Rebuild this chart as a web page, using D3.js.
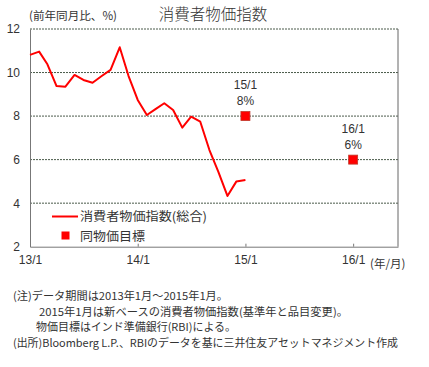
<!DOCTYPE html>
<html>
<head>
<meta charset="utf-8">
<script src="https://cdn.jsdelivr.net/npm/d3@7"></script>
<style>
body { margin: 0; background: #fff; }
text { font-family: "Noto Sans CJK JP", "Noto Sans", sans-serif; fill: #333; }
</style>
</head>
<body>
<div class="chart"></div>
<script>
// monthly CPI yoy (%), 2013/1 - 2015/1
const months = d3.range(25).map(i => new Date(2013, i, 1))
const cpi = [10.81, 10.96, 10.38, 9.38, 9.35, 9.89, 9.66, 9.53, 9.84, 10.12, 11.16, 9.84,
  8.74, 8.05, 8.31, 8.59, 8.28, 7.47, 7.97, 7.74, 6.44, 5.45, 4.33, 4.99, 5.06]
const targetDates = [new Date(2015, 0, 1), new Date(2016, 0, 1)]
const targetValues = [8, 6]
const targetLabels = ['15/1', '16/1']
const yTicks = [2, 4, 6, 8, 10, 12]
const xTicks = [new Date(2013, 0, 1), new Date(2014, 0, 1), new Date(2015, 0, 1), new Date(2016, 0, 1)]
const xTickLabels = ['13/1', '14/1', '15/1', '16/1']
const notes = [
  '(注)データ期間は2013年1月～2015年1月。',
  '2015年1月は新ベースの消費者物価指数(基準年と品目変更)。',
  '物価目標はインド準備銀行(RBI)による。',
  '(出所)Bloomberg L.P.、RBIのデータを基に三井住友アセットマネジメント作成'
]

const W = 429, H = 367
const margin = {top: 29, right: 31, bottom: 120, left: 30}

const svg = d3.select('.chart').append('svg')
  .attr('width', W)
  .attr('height', H)

const x = d3.scaleTime()
  .domain([new Date(2013, 0, 1), new Date(2016, 5, 1)])
  .range([margin.left, W - margin.right])

const y = d3.scaleLinear()
  .domain([2, 12])
  .range([H - margin.bottom - 0.3, margin.top])

// grid lines
svg.selectAll('.grid')
  .data(yTicks.filter(d => d > 2))
  .enter()
  .append('line')
  .attr('x1', margin.left)
  .attr('x2', W - margin.right)
  .attr('y1', d => y(d))
  .attr('y2', d => y(d))
  .attr('stroke', '#4a5a4a')
  .attr('stroke-dasharray', '2,1')
  .attr('stroke-width', 1)

// right border
svg.append('line')
  .attr('x1', W - margin.right).attr('x2', W - margin.right)
  .attr('y1', y(12)).attr('y2', y(2))
  .attr('stroke', '#666')

// left + bottom axes
const yAxis = svg.append('g')
  .attr('transform', `translate(${margin.left},0)`)
  .call(d3.axisLeft(y).tickValues(yTicks).tickSize(0).tickPadding(10))
yAxis.select('.domain').attr('stroke', '#777')
yAxis.selectAll('text').attr('font-size', 12).attr('fill', '#333')
  .style('font-family', '"Liberation Sans", Arial, sans-serif')

const xAxis = svg.append('g')
  .attr('transform', `translate(0,${y(2)})`)
  .call(d3.axisBottom(x).tickValues(xTicks).tickFormat((d, i) => xTickLabels[i]).tickSizeInner(-3).tickSizeOuter(0).tickPadding(9))
xAxis.select('.domain').attr('stroke', '#777')
xAxis.selectAll('line').attr('stroke', '#777')
xAxis.selectAll('text').attr('font-size', 12).attr('fill', '#333')
  .style('font-family', '"Liberation Sans", Arial, sans-serif')

svg.append('text')
  .text('(年/月)')
  .attr('x', 370)
  .attr('y', y(2) + 21)
  .attr('font-size', 11.5)

// cpi line
const line = d3.line()
  .x((d, i) => x(months[i]))
  .y(d => y(d))

svg.append('path')
  .datum(cpi)
  .attr('d', line)
  .attr('fill', 'none')
  .attr('stroke', '#ff0000')
  .attr('stroke-width', 2)
  .attr('stroke-linejoin', 'round')

// targets
svg.selectAll('.target')
  .data(targetValues)
  .enter()
  .append('rect')
  .attr('class', 'target')
  .attr('x', (d, i) => x(targetDates[i]) - 4.5)
  .attr('y', d => y(d) - 4.5)
  .attr('width', 9)
  .attr('height', 9)
  .attr('fill', '#ff0000')
  .attr('stroke', '#c0392b')
  .attr('stroke-width', 0.8)

svg.selectAll('.tlabel')
  .data(targetValues)
  .enter()
  .append('text')
  .attr('text-anchor', 'middle')
  .attr('x', (d, i) => x(targetDates[i]))
  .attr('y', d => y(d) - 27)
  .attr('font-size', 12)
  .style('font-family', '"Liberation Sans", Arial, sans-serif')
  .text((d, i) => targetLabels[i])

svg.selectAll('.tval')
  .data(targetValues)
  .enter()
  .append('text')
  .attr('text-anchor', 'middle')
  .attr('x', (d, i) => x(targetDates[i]))
  .attr('y', d => y(d) - 11)
  .attr('font-size', 12)
  .style('font-family', '"Liberation Sans", Arial, sans-serif')
  .text(d => d + '%')

// title + unit
svg.append('text')
  .text('消費者物価指数')
  .attr('x', 213)
  .attr('y', 20)
  .attr('text-anchor', 'middle')
  .attr('font-size', 15.5)
  .attr('font-weight', 300)

svg.append('text')
  .text('(前年同月比、%)')
  .attr('x', 29)
  .attr('y', 20)
  .attr('font-size', 11.5)
  .attr('textLength', 88)
  .attr('lengthAdjust', 'spacingAndGlyphs')

// legend
svg.append('line')
  .attr('x1', 52).attr('x2', 78)
  .attr('y1', 216.5).attr('y2', 216.5)
  .attr('stroke', '#ff0000')
  .attr('stroke-width', 2)
svg.append('text')
  .text('消費者物価指数(総合)')
  .attr('x', 80).attr('y', 221)
  .attr('font-size', 12.5)
  .attr('textLength', 127)
  .attr('lengthAdjust', 'spacingAndGlyphs')
svg.append('rect')
  .attr('x', 61.5).attr('y', 231.5)
  .attr('width', 8).attr('height', 8)
  .attr('fill', '#ff0000')
svg.append('text')
  .text('同物価目標')
  .attr('x', 80).attr('y', 241)
  .attr('font-size', 12.5)
  .attr('textLength', 65)
  .attr('lengthAdjust', 'spacingAndGlyphs')

// notes
const noteX = [13, 39, 36, 13]
const noteW = [215, 309, 200, 385]
const noteY = [300, 315.5, 331, 346.5]
svg.selectAll('.note')
  .data(notes)
  .enter()
  .append('text')
  .attr('x', (d, i) => noteX[i])
  .attr('y', (d, i) => noteY[i])
  .attr('font-size', 11)
  .attr('textLength', (d, i) => noteW[i])
  .attr('lengthAdjust', 'spacingAndGlyphs')
  .text(d => d)
</script>
</body>
</html>
